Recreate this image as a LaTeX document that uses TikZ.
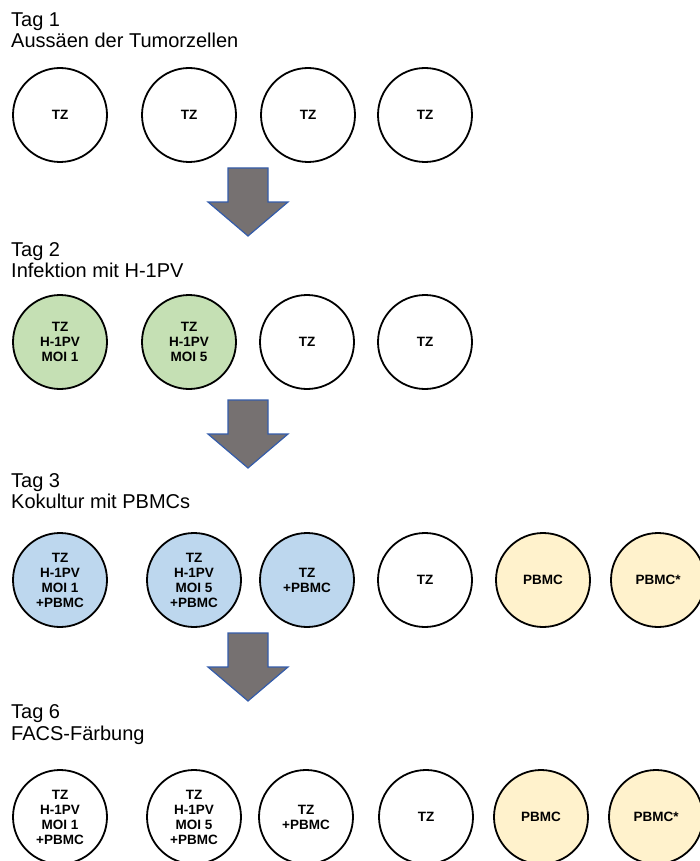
\documentclass[tikz,border=0pt]{standalone}
\usepackage{fontspec}
\setmainfont{Liberation Sans}
\usetikzlibrary{positioning}
\definecolor{wellgreen}{RGB}{197, 224, 180}
\definecolor{wellblue}{RGB}{189, 215, 238}
\definecolor{wellyellow}{RGB}{255, 242, 204}
\definecolor{arrowgray}{RGB}{118, 113, 113}
\definecolor{arrowblue}{RGB}{52, 92, 170}

\begin{document}
\begin{tikzpicture}[x=1pt, y=-1pt,
    well/.style={draw, circle, line width=1.8pt, minimum size=94, inner sep=0pt, align=center,
        font=\fontsize{13.5}{15}\selectfont\bfseries},
    infected/.style={well, fill=wellgreen},
    cocult/.style={well, fill=wellblue},
    pbmc/.style={well, fill=wellyellow},
    title/.style={anchor=base west, inner sep=0pt, font=\fontsize{20}{22}\selectfont}]
    \useasboundingbox (0,0) rectangle (699,861);

    % Tag 1
    \node[title] (tag1) at (11,26.5) {Tag 1};
    \node[title] (step1) at (11,48) {Aussäen der Tumorzellen};
    \node[well] (a1) at (60,115) {TZ};
    \node[well] (a2) at (189,115) {TZ};
    \node[well] (a3) at (308,115) {TZ};
    \node[well] (a4) at (425,115) {TZ};

    % Tag 2
    \node[title] (tag2) at (11,256) {Tag 2};
    \node[title] (step2) at (11,277) {Infektion mit H-1PV};
    \node[infected] (b1) at (60,342) {TZ\\H-1PV\\MOI 1};
    \node[infected] (b2) at (189,342) {TZ\\H-1PV\\MOI 5};
    \node[well] (b3) at (307,342) {TZ};
    \node[well] (b4) at (425,342) {TZ};

    % Tag 3
    \node[title] (tag3) at (11,487) {Tag 3};
    \node[title] (step3) at (11,508) {Kokultur mit PBMCs};
    \node[cocult] (c1) at (60,580) {TZ\\H-1PV\\MOI 1\\+PBMC};
    \node[cocult] (c2) at (194,580) {TZ\\H-1PV\\MOI 5\\+PBMC};
    \node[cocult] (c3) at (307,580) {TZ\\+PBMC};
    \node[well] (c4) at (425,580) {TZ};
    \node[pbmc] (c5) at (543,580) {PBMC};
    \node[pbmc] (c6) at (658,580) {PBMC*};

    % Tag 6
    \node[title] (tag6) at (11,718) {Tag 6};
    \node[title] (step6) at (11,740) {FACS-Färbung};
    \node[well] (d1) at (60,817) {TZ\\H-1PV\\MOI 1\\+PBMC};
    \node[well] (d2) at (194,817) {TZ\\H-1PV\\MOI 5\\+PBMC};
    \node[well] (d3) at (306,817) {TZ\\+PBMC};
    \node[well] (d4) at (426,817) {TZ};
    \node[pbmc] (d5) at (541,817) {PBMC};
    \node[pbmc] (d6) at (656,817) {PBMC*};

    % block arrows between the days
    \foreach \yt in {168, 400, 633} {
        \draw[fill=arrowgray, draw=arrowblue, line width=1.2pt, line join=miter]
            (228,\yt) -- (268,\yt) -- (268,\yt+34) -- (288,\yt+34) -- (248,\yt+68)
            -- (208,\yt+34) -- (228,\yt+34) -- cycle;
    }
\end{tikzpicture}
\end{document}
